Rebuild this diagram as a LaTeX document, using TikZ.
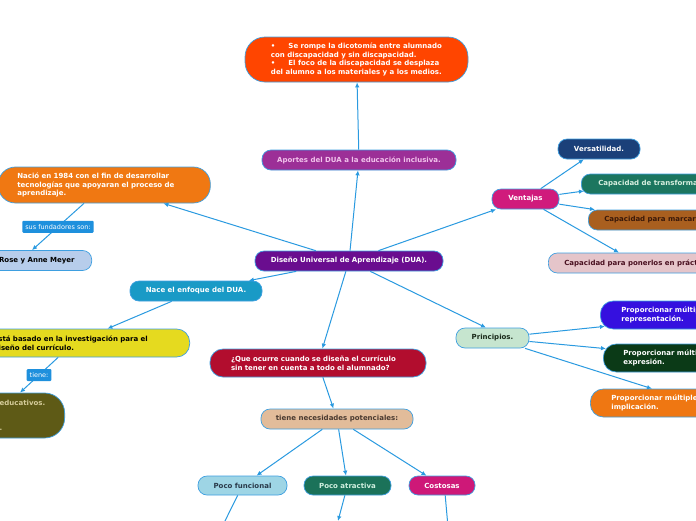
\documentclass[tikz,border=0pt]{standalone}
\usepackage{fontspec}
\setmainfont{DejaVu Sans}
\usetikzlibrary{arrows.meta,calc}
\definecolor{cBorder}{HTML}{3E9FE0}
\definecolor{cEdge}{HTML}{2A9AE0}
\definecolor{cLbl}{HTML}{1E90DD}
\definecolor{cTop}{HTML}{FF4500}
\definecolor{cAport}{HTML}{9C2F97}
\definecolor{cAportT}{HTML}{F2C4EC}
\definecolor{cCentral}{HTML}{6A0D8F}
\definecolor{cNacio}{HTML}{F07812}
\definecolor{cRose}{HTML}{B7CDEB}
\definecolor{cNace}{HTML}{199AC6}
\definecolor{cEsta}{HTML}{E5DA1F}
\definecolor{cOlive}{HTML}{5E5A16}
\definecolor{cOliveT}{HTML}{D5CC9A}
\definecolor{cQue}{HTML}{B20D2E}
\definecolor{cTnec}{HTML}{E2BC9A}
\definecolor{cTnecT}{HTML}{4A3A30}
\definecolor{cPF}{HTML}{9ED5E5}
\definecolor{cPFT}{HTML}{2A3A4A}
\definecolor{cPA}{HTML}{1B7259}
\definecolor{cPAT}{HTML}{D0F0E0}
\definecolor{cCost}{HTML}{CE1878}
\definecolor{cPrin}{HTML}{C6E5CF}
\definecolor{cPrinT}{HTML}{1A2A1A}
\definecolor{cPone}{HTML}{3510DF}
\definecolor{cPtwo}{HTML}{0B3A17}
\definecolor{cPthree}{HTML}{EF7712}
\definecolor{cVent}{HTML}{D01B7C}
\definecolor{cVers}{HTML}{1B4079}
\definecolor{cTransf}{HTML}{1C765F}
\definecolor{cTransfT}{HTML}{D8F0E0}
\definecolor{cMarc}{HTML}{A95F1F}
\definecolor{cMarcT}{HTML}{3A1808}
\definecolor{cPon}{HTML}{E5C5CA}
\definecolor{cPonT}{HTML}{4A1020}
\begin{document}
\begin{tikzpicture}[x=1pt,y=-1pt,
  box/.style={draw=cBorder, line width=0.7pt, rounded corners=9pt,
    font=\fontsize{7}{8.5}\selectfont\bfseries, inner sep=0pt,
    minimum height=20pt},
  lbl/.style={fill=cLbl, text=white, font=\fontsize{6.5}{7}\selectfont,
    inner xsep=3pt, inner ysep=0pt, minimum height=12pt, rounded corners=1pt},
  edge/.style={draw=cEdge, line width=1pt, -{Latex[length=5pt,width=4.5pt]}}]
\useasboundingbox (0,0) rectangle (696,520);
\fill[white] (0,0) rectangle (696,520);

% nodes
\node[box, fill=cTop, text=white, minimum width=223pt, minimum height=45pt,
  align=left, rounded corners=20pt] (top) at (356.5,59.5)
  {\textbullet\hspace{13pt}Se rompe la dicotomía entre alumnado\\con discapacidad y sin discapacidad.\\\textbullet\hspace{13pt}El foco de la discapacidad se desplaza\\del alumno a los materiales y a los medios.};
\node[box, fill=cAport, text=cAportT, minimum width=194pt] (aportes) at (359,160)
  {Aportes del DUA a la educación inclusiva.};
\node[box, fill=cCentral, text=white, minimum width=188pt] (central) at (349,261)
  {Diseño Universal de Aprendizaje (DUA).};
\node[box, fill=cNacio, text=white, anchor=west, inner xsep=19pt, text width=174pt,
  align=left, minimum height=36pt, rounded corners=17pt] (nacio) at (-2,185)
  {Nació en 1984 con el fin de desarrollar\\tecnologías que apoyaran el proceso de\\aprendizaje.};
\node[box, fill=cRose, text=black, anchor=east, inner xsep=17pt] (rose) at (92,260.5)
  {Rose y Anne Meyer};
\node[box, fill=cNace, text=white, minimum width=132pt] (nace) at (196,291)
  {Nace el enfoque del DUA.};
\node[box, fill=cEsta, text=black, anchor=east, inner xsep=36pt, text width=160pt,
  align=left, minimum height=28pt, rounded corners=13pt] (esta) at (190,343)
  {Está basado en la investigación para el\\diseño del currículo.};
\node[box, fill=cOlive, text=cOliveT, anchor=east, inner xsep=20pt, text width=45pt,
  align=left, minimum height=45pt, rounded corners=20pt] (olive) at (65,415.5)
  {educativos.\\\mbox{}\\\mbox{}\\.};
\node[box, fill=cQue, text=white, minimum width=216pt, text width=174pt, align=left,
  minimum height=28pt, rounded corners=13pt] (que) at (318,363)
  {¿Que ocurre cuando se diseña el currículo\\sin tener en cuenta a todo el alumnado?};
\node[box, fill=cTnec, text=cTnecT, minimum width=152pt] (tnec) at (337,419)
  {tiene necesidades potenciales:};
\node[box, fill=cPF, text=cPFT, minimum width=89pt, minimum height=19pt] (pf) at (242.5,485.5)
  {Poco funcional};
\node[box, fill=cPA, text=cPAT, minimum width=87pt, minimum height=19pt] (pa) at (347.5,485.5)
  {Poco atractiva};
\node[box, fill=cCost, text=white, minimum width=66pt, minimum height=19pt] (cost) at (442,485.5)
  {Costosas};
\node[box, fill=cPrin, text=cPrinT, minimum width=73pt] (prin) at (492.5,338)
  {Principios.};
\node[box, fill=cPone, text=white, anchor=west, inner xsep=21pt, align=left,
  minimum height=28pt, rounded corners=13pt] (pone) at (600,315)
  {Proporcionar múltiples medios de\\representación.};
\node[box, fill=cPtwo, text=white, anchor=west, inner xsep=20pt, align=left,
  minimum height=28pt, rounded corners=13pt] (ptwo) at (603,358)
  {Proporcionar múltiples medios de acción y\\expresión.};
\node[box, fill=cPthree, text=white, anchor=west, inner xsep=21pt, align=left,
  minimum height=28pt, rounded corners=13pt] (pthree) at (590,403)
  {Proporcionar múltiples formas de\\implicación.};
\node[box, fill=cVent, text=white, minimum width=67pt] (vent) at (525.5,199)
  {Ventajas};
\node[box, fill=cVers, text=white, minimum width=82pt] (vers) at (599,149)
  {Versatilidad.};
\node[box, fill=cTransf, text=cTransfT, anchor=west, inner xsep=17pt] (transf) at (581,184)
  {Capacidad de transformarse.};
\node[box, fill=cMarc, text=cMarcT, anchor=west, inner xsep=16pt] (marc) at (588,220)
  {Capacidad para marcarse objetivos.};
\node[box, fill=cPon, text=cPonT, anchor=west, inner xsep=16pt] (pon) at (548,263)
  {Capacidad para ponerlos en práctica.};

\coordinate (pfc) at (222,527);
\coordinate (pac) at (338,521);
\coordinate (coc) at (448,527);

% connectors
\draw[edge] (central) -- (aportes);
\draw[edge] (aportes) -- (top);
\draw[edge] (central) -- (nacio);
\draw[edge] (nacio) -- node[lbl]{sus fundadores son:} ($(rose.north east)+(-60,0)$);
\draw[edge] (central) -- (nace);
\draw[edge] (nace) -- (esta);
\draw[edge] (esta) -- node[lbl]{tiene:} ($(olive.north east)+(-45,0)$);
\draw[edge] (central) -- (que);
\draw[edge] (que) -- (tnec);
\draw[edge] (tnec) -- (pf);
\draw[edge] (tnec) -- (pa);
\draw[edge] (tnec) -- (cost);
\draw[edge] (pf) -- (pfc);
\draw[edge] (pa) -- (pac);
\draw[edge] (cost.-72) -- (coc);
\draw[edge] (central) -- ($(prin.north)+(-6.5,0)$);
\draw[edge] (central) -- (vent);
\draw[edge] (vent) -- (vers);
\draw[edge] (vent) -- ($(transf.west)+(3,7)$);
\draw[edge] (vent) -- ($(marc.north west)+(7,0)$);
\draw[edge] (vent) -- ($(pon.north west)+(71,0)$);
\draw[edge] (prin) -- ($(pone.south west)+(5,-3)$);
\draw[edge] (prin) -- ($(ptwo.north west)+(3,5)$);
\draw[edge] (prin) -- ($(pthree.north west)+(62,0)$);
\end{tikzpicture}
\end{document}
